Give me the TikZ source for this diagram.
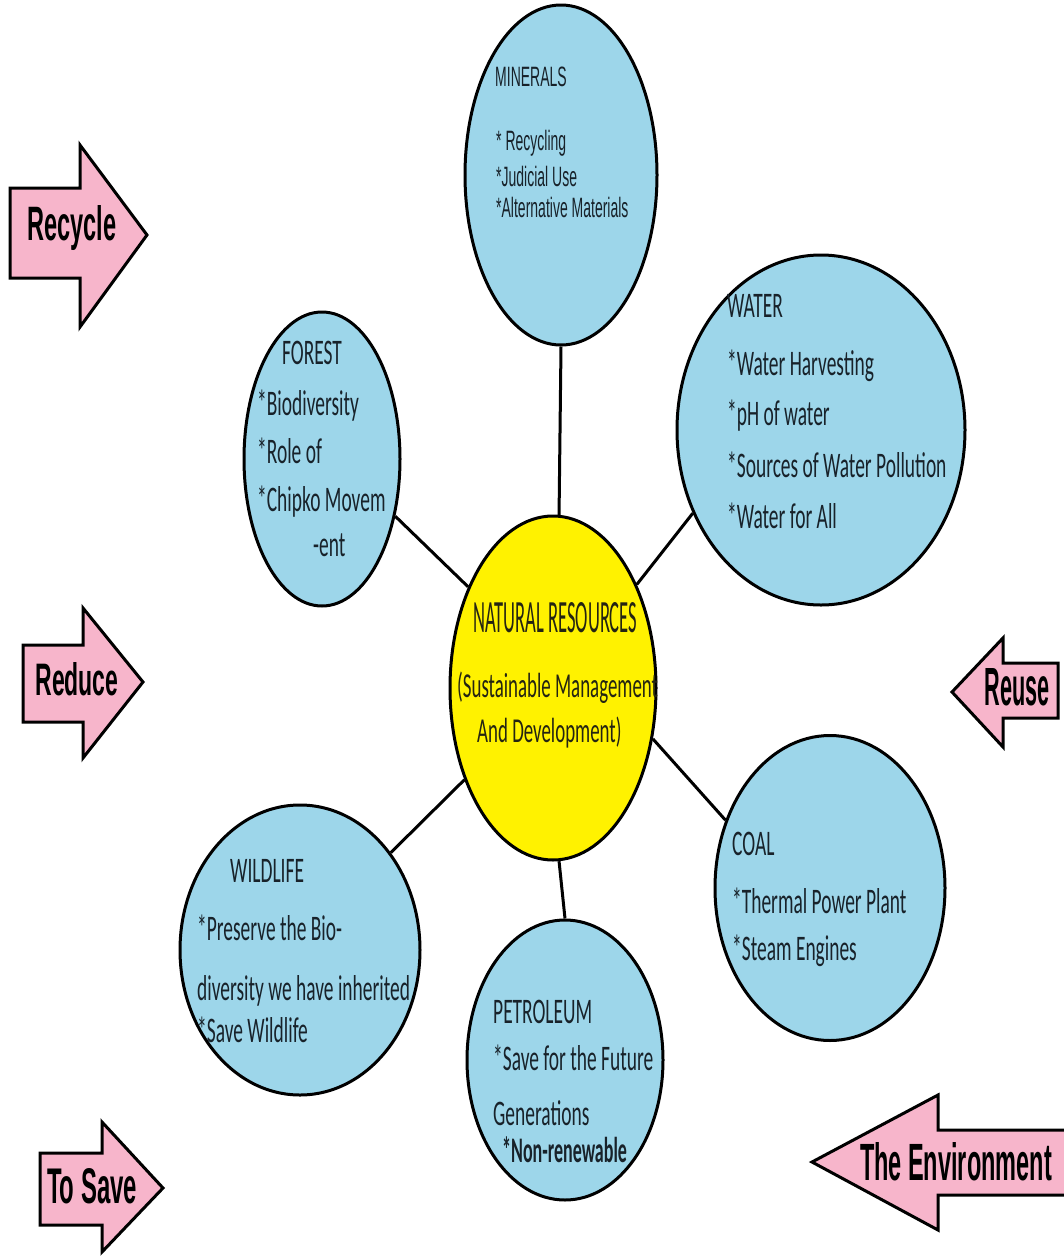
\documentclass[tikz,border=0pt]{standalone}
\usepackage{fontspec}
\setmainfont{Carlito}
\newfontfamily\arialfont{Liberation Sans}
\usetikzlibrary{shapes.geometric}

\definecolor{bubblefill}{RGB}{157,214,234}
\definecolor{corefill}{RGB}{255,242,0}
\definecolor{arrowfill}{RGB}{247,181,203}
\definecolor{bubbleink}{RGB}{24,34,42}
\definecolor{coreink}{RGB}{36,36,18}

% condensed body lines
\newcommand\sq[1]{\scalebox{0.54}[1]{#1}}
\newcommand\sqm[1]{\scalebox{0.5}[1]{#1}}

\tikzset{
  bubble/.style={ellipse, draw=black, line width=3pt, fill=bubblefill, inner sep=0pt},
  core/.style={ellipse, draw=black, line width=3pt, fill=corefill, inner sep=0pt},
  link/.style={draw=black, line width=3pt},
  bodytxt/.style={anchor=base west, inner sep=0pt, text=bubbleink, font=\fontsize{36}{40}\selectfont},
  mintxt/.style={anchor=base west, inner sep=0pt, text=bubbleink, font=\arialfont\fontsize{28}{30}\selectfont},
  coretxt/.style={anchor=base west, inner sep=0pt, text=coreink, font=\fontsize{35}{40}\selectfont},
  arrowshape/.style={fill=arrowfill, draw=black, line width=3pt, line join=miter},
  arrowtxt/.style={anchor=base, inner sep=0pt, text=black, font=\arialfont\bfseries\fontsize{40}{44}\selectfont},
}

\begin{document}
\begin{tikzpicture}[x=1pt,y=-1pt]
\useasboundingbox (0,0) rectangle (1064,1256);
\fill[white] (0,0) rectangle (1064,1256);

% ---- bubbles ----
\node[bubble, minimum width=192pt, minimum height=340pt] (minerals) at (561,175) {};
\node[bubble, minimum width=156pt, minimum height=294pt] (forest) at (322,459) {};
\node[bubble, minimum width=288pt, minimum height=350pt] (water) at (821,430) {};
\node[core, minimum width=206pt, minimum height=344pt] (nat) at (553,688) {};
\node[bubble, minimum width=240pt, minimum height=290pt] (wildlife) at (300,950) {};
\node[bubble, minimum width=196pt, minimum height=280pt] (petroleum) at (565,1060) {};
\node[bubble, minimum width=230pt, minimum height=305pt] (coal) at (830,888) {};

% ---- connectors ----
\draw[link] (minerals.south) -- (nat.88);
\draw[link] (forest.-38) -- (nat.130);
\draw[link] (water.213) -- (nat.51);
\draw[link] (coal.147) -- (nat.-27);
\draw[link] (wildlife.47) -- (nat.226);
\draw[link] (petroleum.90) -- (nat.272);

% ---- minerals ----
\node[mintxt] (min0) at (495,86) {\sqm{MINERALS}};
\node[mintxt] (min1) at (496,150) {\sqm{* Recycling}};
\node[mintxt] (min2) at (496,186) {\sqm{*Judicial Use}};
\node[mintxt] (min3) at (496,217) {\sqm{*Alternative Materials}};

% ---- forest ----
\node[bodytxt] (for0) at (282,364) {\sq{FOREST}};
\node[bodytxt] (for1) at (257,415) {\sq{*Biodiversity}};
\node[bodytxt] (for2) at (257,463) {\sq{*Role of}};
\node[bodytxt] (for3) at (257,511) {\sq{*Chipko Movem}};
\node[bodytxt] (for4) at (313,556) {\sq{-ent}};

% ---- water ----
\node[bodytxt] (wat0) at (727,317) {\sq{WATER}};
\node[bodytxt] (wat1) at (727,375) {\sq{*Water Harvesting}};
\node[bodytxt] (wat2) at (727,425) {\sq{*pH of water}};
\node[bodytxt] (wat3) at (727,477) {\sq{*Sources of Water Pollution}};
\node[bodytxt] (wat4) at (727,528) {\sq{*Water for All}};

% ---- centre ----
\node[coretxt] (nat0) at (473,632) {\resizebox{164pt}{30pt}{NATURAL RESOURCES}};
\node[coretxt] (nat1) at (457,697) {\sq{(Sustainable Management}};
\node[coretxt] (nat2) at (477,742) {\sq{And Development)}};

% ---- coal ----
\node[bodytxt] (coa0) at (732,855) {\sq{COAL}};
\node[bodytxt] (coa1) at (732,913) {\sq{*Thermal Power Plant}};
\node[bodytxt] (coa2) at (732,960) {\sq{*Steam Engines}};

% ---- wildlife ----
\node[bodytxt] (wil0) at (230,882) {\sq{WILDLIFE}};
\node[bodytxt] (wil1) at (197,940) {\sq{*Preserve the Bio-}};
\node[bodytxt] (wil2) at (197,1000) {\sq{diversity we have inherited}};
\node[bodytxt] (wil3) at (197,1042) {\sq{*Save Wildlife}};

% ---- petroleum ----
\node[bodytxt] (pet0) at (493,1023) {\sq{PETROLEUM}};
\node[bodytxt] (pet1) at (493,1070) {\sq{*Save for the Future}};
\node[bodytxt] (pet2) at (493,1125) {\sq{Generations}};
\node[bodytxt] (pet3) at (502,1162) {\scalebox{0.5}[1]{\bfseries *Non-renewable}};

% ---- block arrows ----
\draw[arrowshape] (10,188) -- (80,188) -- (80,145) -- (147,235) -- (80,327) -- (80,278) -- (10,278) -- cycle;
\draw[arrowshape] (23,645) -- (83,645) -- (83,608) -- (143,682) -- (83,758) -- (83,722) -- (23,722) -- cycle;
\draw[arrowshape] (40,1153) -- (102,1153) -- (102,1122) -- (163,1188) -- (102,1252) -- (102,1225) -- (40,1225) -- cycle;
\draw[arrowshape] (1058,663) -- (1003,663) -- (1003,638) -- (952,692) -- (1003,747) -- (1003,718) -- (1058,718) -- cycle;
\draw[arrowshape] (1066,1130) -- (938,1130) -- (938,1095) -- (812,1162) -- (938,1230) -- (938,1195) -- (1066,1195) -- cycle;

\node[arrowtxt] (arRecycle) at (72,240) {\resizebox{89pt}{35pt}{Recycle}};
\node[arrowtxt] (arReduce) at (77,695) {\resizebox{83pt}{33pt}{Reduce}};
\node[arrowtxt] (arSave) at (92,1203) {\resizebox{90pt}{35pt}{To Save}};
\node[arrowtxt] (arReuse) at (1017,705) {\resizebox{65pt}{37pt}{Reuse}};
\node[arrowtxt] (arEnv) at (956,1180) {\resizebox{192pt}{38pt}{The Environment}};
\end{tikzpicture}
\end{document}
